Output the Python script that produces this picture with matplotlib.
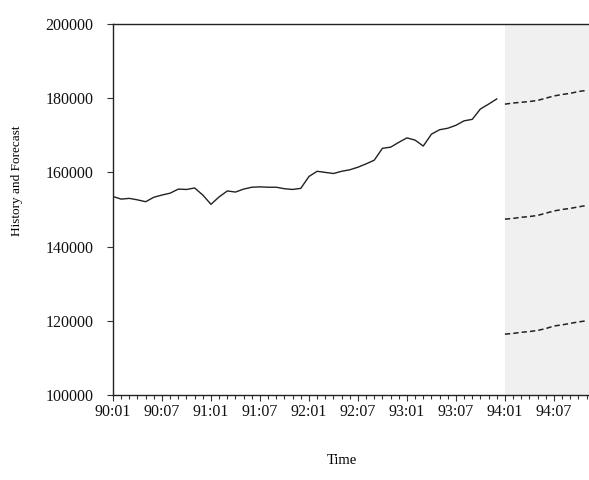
import numpy as np
import matplotlib
matplotlib.use('Agg')
import matplotlib.pyplot as plt
from matplotlib.ticker import MultipleLocator, FixedLocator

# monthly history, 90:01 .. 93:12
history = [153500, 152800, 153000, 152600, 152100, 153300, 153900, 154400,
           155500, 155400, 155800, 153900, 151400, 153400, 155000, 154700,
           155500, 156000, 156100, 156000, 156000, 155600, 155400, 155700,
           158900, 160300, 160000, 159700, 160300, 160700, 161400, 162300,
           163300, 166500, 166800, 168100, 169300, 168700, 167100, 170300,
           171500, 171900, 172700, 173900, 174300, 177100, 178400, 179800]

# forecast, 94:01 .. 94:11
fc_upper = [178400, 178700, 178900, 179100, 179400, 180000, 180600,
            181000, 181300, 181800, 182100]
fc_mid = [147400, 147600, 147900, 148100, 148400, 149000, 149600,
          150000, 150300, 150700, 151100]
fc_lower = [116400, 116600, 116900, 117100, 117400, 117900, 118600,
            118900, 119300, 119700, 120000]

tick_labels = ['90:01', '90:07', '91:01', '91:07', '92:01', '92:07',
               '93:01', '93:07', '94:01', '94:07']
y_ticks = [100000, 120000, 140000, 160000, 180000, 200000]


def main():
    plt.rcParams['font.family'] = ['Liberation Serif', 'DejaVu Serif']

    fig = plt.figure(figsize=(5.89, 4.8), dpi=100)
    ax = fig.add_axes([113 / 589, 1 - 395 / 480, 1 - 113 / 589, (395 - 24) / 480])

    x_hist = np.arange(len(history))
    x_fc = np.arange(len(history), len(history) + len(fc_mid))
    x_max = 58.3

    # forecast region
    ax.axvspan(len(history), x_max, color='#f0f0f0', lw=0, zorder=0)

    ax.plot(x_hist, history, color='#222222', lw=1.0)
    for fc in (fc_upper, fc_mid, fc_lower):
        ax.plot(x_fc, fc, color='#222222', lw=1.1, ls=(0, (3.5, 2)))

    ax.set_xlim(0, x_max)
    ax.set_ylim(100000, 200000)

    ax.xaxis.set_major_locator(FixedLocator(np.arange(0, 6 * len(tick_labels), 6)))
    ax.set_xticklabels(tick_labels)
    ax.xaxis.set_minor_locator(MultipleLocator(1))
    ax.set_yticks(y_ticks)
    ax.set_yticklabels([str(v) for v in y_ticks])

    ax.tick_params(axis='x', which='major', direction='out', length=4.5, width=0.8,
                   labelsize=11.5, pad=2, color='#333333', labelcolor='#111111')
    ax.tick_params(axis='x', which='minor', direction='out', length=3, width=0.8,
                   color='#333333')
    ax.tick_params(axis='y', direction='out', length=4, width=0.8,
                   labelsize=11.5, pad=10, color='#333333', labelcolor='#111111')

    ax.spines['right'].set_visible(False)
    for s in ('left', 'top', 'bottom'):
        ax.spines[s].set_linewidth(1.0)
        ax.spines[s].set_color('#222222')

    fig.text(17 / 589, 1 - 181 / 480, 'History and Forecast', rotation=90,
             ha='center', va='center', fontsize=9.5)
    fig.text(342 / 589, 1 - 461 / 480, 'Time', ha='center', va='center',
             fontsize=10.5)

    fig.savefig('out.png', dpi=100)


if __name__ == '__main__':
    main()
